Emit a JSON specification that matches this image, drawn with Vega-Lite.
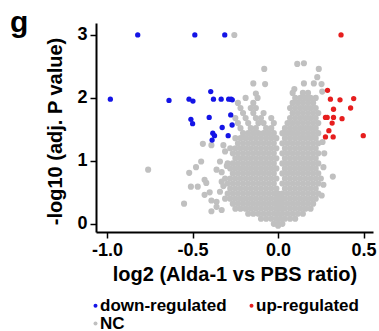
{
"$schema": "https://vega.github.io/schema/vega-lite/v6.json",
"width": 277, "height": 209,
"autosize": {"type": "none"},
"padding": {"left": 96, "top": 23, "right": 6, "bottom": 99},
"background": "white",
"title": {"text": "g", "anchor": "start", "frame": "group", "dx": -86, "offset": -39, "fontSize": 30, "font": "Liberation Sans", "fontWeight": "bold", "color": "black", "baseline": "alphabetic"},
"config": {
 "view": {"stroke": null},
 "axis": {"grid": false, "domainColor": "black", "domainWidth": 2, "tickColor": "black", "tickWidth": 1.5, "tickSize": 6,
  "labelFont": "Liberation Sans", "labelFontSize": 18, "labelFontWeight": "bold", "labelColor": "black",
  "titleFont": "Liberation Sans", "titleFontSize": 20, "titleFontWeight": "bold", "titleColor": "black"},
 "legend": {"orient": "none", "legendX": -9, "legendY": 274, "direction": "horizontal", "columns": 2, "padding": 0,
  "labelFont": "Liberation Sans", "labelFontSize": 17, "labelFontWeight": "bold", "labelColor": "black",
  "symbolType": "circle", "symbolSize": 16, "symbolStrokeWidth": 0, "labelOffset": -4, "columnPadding": 16, "rowPadding": 0}
},
"datasets": {
 "nc": [
{"x":0,"y":-0.03},
{"x":-0.025,"y":0},{"x":0,"y":0},{"x":0.025,"y":0},
{"x":-0.1,"y":0.08},{"x":-0.07,"y":0.08},{"x":-0.04,"y":0.08},{"x":-0.01,"y":0.08},{"x":0.015,"y":0.08},{"x":0.04,"y":0.08},{"x":0.07,"y":0.08},{"x":0.1,"y":0.08},
{"x":-0.175,"y":0.16},{"x":-0.145,"y":0.16},{"x":-0.115,"y":0.16},{"x":-0.085,"y":0.16},{"x":-0.055,"y":0.16},{"x":-0.025,"y":0.16},{"x":0,"y":0.16},{"x":0.025,"y":0.16},{"x":0.055,"y":0.16},{"x":0.085,"y":0.16},{"x":0.115,"y":0.16},{"x":0.145,"y":0.16},
{"x":-0.25,"y":0.24},{"x":-0.22,"y":0.24},{"x":-0.19,"y":0.24},{"x":-0.16,"y":0.24},{"x":-0.13,"y":0.24},{"x":-0.1,"y":0.24},{"x":-0.07,"y":0.24},{"x":-0.04,"y":0.24},{"x":-0.01,"y":0.24},{"x":0.015,"y":0.24},{"x":0.04,"y":0.24},{"x":0.07,"y":0.24},{"x":0.1,"y":0.24},{"x":0.13,"y":0.24},{"x":0.16,"y":0.24},{"x":0.19,"y":0.24},
{"x":-0.265,"y":0.32},{"x":-0.235,"y":0.32},{"x":-0.205,"y":0.32},{"x":-0.175,"y":0.32},{"x":-0.145,"y":0.32},{"x":-0.115,"y":0.32},{"x":-0.085,"y":0.32},{"x":-0.055,"y":0.32},{"x":-0.025,"y":0.32},{"x":0,"y":0.32},{"x":0.025,"y":0.32},{"x":0.055,"y":0.32},{"x":0.085,"y":0.32},{"x":0.115,"y":0.32},{"x":0.145,"y":0.32},{"x":0.175,"y":0.32},{"x":0.205,"y":0.32},
{"x":-0.28,"y":0.4},{"x":-0.25,"y":0.4},{"x":-0.22,"y":0.4},{"x":-0.19,"y":0.4},{"x":-0.16,"y":0.4},{"x":-0.13,"y":0.4},{"x":-0.1,"y":0.4},{"x":-0.07,"y":0.4},{"x":-0.04,"y":0.4},{"x":-0.01,"y":0.4},{"x":0.015,"y":0.4},{"x":0.04,"y":0.4},{"x":0.07,"y":0.4},{"x":0.1,"y":0.4},{"x":0.13,"y":0.4},{"x":0.16,"y":0.4},{"x":0.19,"y":0.4},{"x":0.22,"y":0.4},
{"x":-0.295,"y":0.48},{"x":-0.265,"y":0.48},{"x":-0.235,"y":0.48},{"x":-0.205,"y":0.48},{"x":-0.175,"y":0.48},{"x":-0.145,"y":0.48},{"x":-0.115,"y":0.48},{"x":-0.085,"y":0.48},{"x":-0.055,"y":0.48},{"x":-0.025,"y":0.48},{"x":0,"y":0.48},{"x":0.025,"y":0.48},{"x":0.055,"y":0.48},{"x":0.085,"y":0.48},{"x":0.115,"y":0.48},{"x":0.145,"y":0.48},{"x":0.175,"y":0.48},{"x":0.205,"y":0.48},{"x":0.235,"y":0.48},
{"x":-0.28,"y":0.56},{"x":-0.25,"y":0.56},{"x":-0.22,"y":0.56},{"x":-0.19,"y":0.56},{"x":-0.16,"y":0.56},{"x":-0.13,"y":0.56},{"x":-0.1,"y":0.56},{"x":-0.07,"y":0.56},{"x":-0.04,"y":0.56},{"x":-0.01,"y":0.56},{"x":0.04,"y":0.56},{"x":0.07,"y":0.56},{"x":0.1,"y":0.56},{"x":0.13,"y":0.56},{"x":0.16,"y":0.56},{"x":0.19,"y":0.56},{"x":0.22,"y":0.56},
{"x":-0.295,"y":0.64},{"x":-0.265,"y":0.64},{"x":-0.235,"y":0.64},{"x":-0.205,"y":0.64},{"x":-0.175,"y":0.64},{"x":-0.145,"y":0.64},{"x":-0.115,"y":0.64},{"x":-0.085,"y":0.64},{"x":-0.055,"y":0.64},{"x":-0.025,"y":0.64},{"x":0.025,"y":0.64},{"x":0.055,"y":0.64},{"x":0.085,"y":0.64},{"x":0.115,"y":0.64},{"x":0.145,"y":0.64},{"x":0.175,"y":0.64},{"x":0.205,"y":0.64},{"x":0.235,"y":0.64},
{"x":-0.31,"y":0.72},{"x":-0.28,"y":0.72},{"x":-0.25,"y":0.72},{"x":-0.22,"y":0.72},{"x":-0.19,"y":0.72},{"x":-0.16,"y":0.72},{"x":-0.13,"y":0.72},{"x":-0.1,"y":0.72},{"x":-0.07,"y":0.72},{"x":-0.04,"y":0.72},{"x":-0.01,"y":0.72},{"x":0.04,"y":0.72},{"x":0.07,"y":0.72},{"x":0.1,"y":0.72},{"x":0.13,"y":0.72},{"x":0.16,"y":0.72},{"x":0.19,"y":0.72},{"x":0.22,"y":0.72},{"x":0.25,"y":0.72},
{"x":-0.265,"y":0.8},{"x":-0.235,"y":0.8},{"x":-0.205,"y":0.8},{"x":-0.175,"y":0.8},{"x":-0.145,"y":0.8},{"x":-0.115,"y":0.8},{"x":-0.085,"y":0.8},{"x":-0.055,"y":0.8},{"x":-0.025,"y":0.8},{"x":0.025,"y":0.8},{"x":0.055,"y":0.8},{"x":0.085,"y":0.8},{"x":0.115,"y":0.8},{"x":0.145,"y":0.8},{"x":0.175,"y":0.8},{"x":0.205,"y":0.8},{"x":0.235,"y":0.8},
{"x":-0.28,"y":0.88},{"x":-0.25,"y":0.88},{"x":-0.22,"y":0.88},{"x":-0.19,"y":0.88},{"x":-0.16,"y":0.88},{"x":-0.13,"y":0.88},{"x":-0.1,"y":0.88},{"x":-0.07,"y":0.88},{"x":-0.04,"y":0.88},{"x":-0.01,"y":0.88},{"x":0.04,"y":0.88},{"x":0.07,"y":0.88},{"x":0.1,"y":0.88},{"x":0.13,"y":0.88},{"x":0.16,"y":0.88},{"x":0.19,"y":0.88},{"x":0.22,"y":0.88},
{"x":-0.295,"y":0.96},{"x":-0.265,"y":0.96},{"x":-0.235,"y":0.96},{"x":-0.205,"y":0.96},{"x":-0.175,"y":0.96},{"x":-0.145,"y":0.96},{"x":-0.115,"y":0.96},{"x":-0.085,"y":0.96},{"x":-0.055,"y":0.96},{"x":-0.025,"y":0.96},{"x":0.025,"y":0.96},{"x":0.055,"y":0.96},{"x":0.085,"y":0.96},{"x":0.115,"y":0.96},{"x":0.145,"y":0.96},{"x":0.175,"y":0.96},{"x":0.205,"y":0.96},{"x":0.235,"y":0.96},
{"x":-0.25,"y":1.04},{"x":-0.22,"y":1.04},{"x":-0.19,"y":1.04},{"x":-0.16,"y":1.04},{"x":-0.13,"y":1.04},{"x":-0.1,"y":1.04},{"x":-0.07,"y":1.04},{"x":-0.04,"y":1.04},{"x":-0.01,"y":1.04},{"x":0.04,"y":1.04},{"x":0.07,"y":1.04},{"x":0.1,"y":1.04},{"x":0.13,"y":1.04},{"x":0.16,"y":1.04},{"x":0.19,"y":1.04},{"x":0.22,"y":1.04},
{"x":-0.265,"y":1.12},{"x":-0.235,"y":1.12},{"x":-0.205,"y":1.12},{"x":-0.175,"y":1.12},{"x":-0.145,"y":1.12},{"x":-0.115,"y":1.12},{"x":-0.085,"y":1.12},{"x":-0.055,"y":1.12},{"x":-0.025,"y":1.12},{"x":0.025,"y":1.12},{"x":0.055,"y":1.12},{"x":0.085,"y":1.12},{"x":0.115,"y":1.12},{"x":0.145,"y":1.12},{"x":0.175,"y":1.12},{"x":0.205,"y":1.12},{"x":0.235,"y":1.12},
{"x":-0.28,"y":1.2},{"x":-0.25,"y":1.2},{"x":-0.22,"y":1.2},{"x":-0.19,"y":1.2},{"x":-0.16,"y":1.2},{"x":-0.13,"y":1.2},{"x":-0.1,"y":1.2},{"x":-0.07,"y":1.2},{"x":-0.04,"y":1.2},{"x":-0.01,"y":1.2},{"x":0.04,"y":1.2},{"x":0.07,"y":1.2},{"x":0.1,"y":1.2},{"x":0.13,"y":1.2},{"x":0.16,"y":1.2},{"x":0.19,"y":1.2},{"x":0.22,"y":1.2},
{"x":-0.235,"y":1.28},{"x":-0.205,"y":1.28},{"x":-0.175,"y":1.28},{"x":-0.145,"y":1.28},{"x":-0.115,"y":1.28},{"x":-0.085,"y":1.28},{"x":-0.055,"y":1.28},{"x":-0.025,"y":1.28},{"x":0.025,"y":1.28},{"x":0.055,"y":1.28},{"x":0.085,"y":1.28},{"x":0.115,"y":1.28},{"x":0.145,"y":1.28},{"x":0.175,"y":1.28},{"x":0.205,"y":1.28},{"x":0.235,"y":1.28},
{"x":-0.25,"y":1.36},{"x":-0.22,"y":1.36},{"x":-0.19,"y":1.36},{"x":-0.16,"y":1.36},{"x":-0.13,"y":1.36},{"x":-0.1,"y":1.36},{"x":-0.07,"y":1.36},{"x":-0.04,"y":1.36},{"x":-0.01,"y":1.36},{"x":0.04,"y":1.36},{"x":0.07,"y":1.36},{"x":0.1,"y":1.36},{"x":0.13,"y":1.36},{"x":0.16,"y":1.36},{"x":0.19,"y":1.36},{"x":0.22,"y":1.36},
{"x":-0.205,"y":1.44},{"x":-0.175,"y":1.44},{"x":-0.145,"y":1.44},{"x":-0.115,"y":1.44},{"x":-0.085,"y":1.44},{"x":-0.055,"y":1.44},{"x":-0.025,"y":1.44},{"x":0.025,"y":1.44},{"x":0.055,"y":1.44},{"x":0.085,"y":1.44},{"x":0.115,"y":1.44},{"x":0.145,"y":1.44},{"x":0.175,"y":1.44},{"x":0.205,"y":1.44},{"x":0.235,"y":1.44},
{"x":-0.22,"y":1.52},{"x":-0.16,"y":1.52},{"x":-0.13,"y":1.52},{"x":-0.07,"y":1.52},{"x":-0.04,"y":1.52},{"x":0.04,"y":1.52},{"x":0.07,"y":1.52},{"x":0.1,"y":1.52},{"x":0.13,"y":1.52},{"x":0.16,"y":1.52},{"x":0.19,"y":1.52},{"x":0.22,"y":1.52},
{"x":-0.235,"y":1.6},{"x":-0.175,"y":1.6},{"x":-0.115,"y":1.6},{"x":-0.085,"y":1.6},{"x":-0.025,"y":1.6},{"x":0.055,"y":1.6},{"x":0.085,"y":1.6},{"x":0.115,"y":1.6},{"x":0.145,"y":1.6},{"x":0.175,"y":1.6},{"x":0.205,"y":1.6},{"x":0.235,"y":1.6},
{"x":-0.25,"y":1.68},{"x":-0.19,"y":1.68},{"x":-0.13,"y":1.68},{"x":-0.1,"y":1.68},{"x":-0.04,"y":1.68},{"x":0.07,"y":1.68},{"x":0.1,"y":1.68},{"x":0.13,"y":1.68},{"x":0.16,"y":1.68},{"x":0.19,"y":1.68},{"x":0.22,"y":1.68},
{"x":-0.205,"y":1.76},{"x":-0.145,"y":1.76},{"x":-0.085,"y":1.76},{"x":0.085,"y":1.76},{"x":0.115,"y":1.76},{"x":0.145,"y":1.76},{"x":0.175,"y":1.76},{"x":0.205,"y":1.76},{"x":0.235,"y":1.76},
{"x":-0.22,"y":1.84},{"x":-0.16,"y":1.84},{"x":-0.13,"y":1.84},{"x":0.07,"y":1.84},{"x":0.1,"y":1.84},{"x":0.13,"y":1.84},{"x":0.16,"y":1.84},{"x":0.19,"y":1.84},{"x":0.22,"y":1.84},
{"x":-0.235,"y":1.92},{"x":-0.145,"y":1.92},{"x":0.085,"y":1.92},{"x":0.115,"y":1.92},{"x":0.145,"y":1.92},{"x":0.175,"y":1.92},{"x":0.205,"y":1.92},
{"x":-0.19,"y":2.0},{"x":-0.12,"y":2.0},{"x":0.1,"y":2.0},{"x":0.13,"y":2.0},{"x":0.16,"y":2.0},{"x":0.19,"y":2.0},{"x":0.22,"y":2.0},
{"x":0.085,"y":2.08},{"x":0.145,"y":2.08},{"x":0.175,"y":2.08},
{"x":-0.256,"y":3.0},{"x":-0.081,"y":2.46},{"x":0.112,"y":2.54},{"x":0.151,"y":2.55},{"x":0.238,"y":2.46},{"x":-0.145,"y":2.23},{"x":-0.076,"y":2.22},{"x":0.151,"y":2.23},{"x":0.209,"y":2.23},{"x":0.229,"y":2.33},{"x":0.254,"y":2.22},{"x":0.258,"y":2.1},{"x":-0.13,"y":2.07},{"x":0.095,"y":2.14},
{"x":-0.76,"y":0.86},{"x":-0.55,"y":0.32},{"x":-0.52,"y":0.81},{"x":-0.51,"y":0.59},{"x":-0.47,"y":0.59},{"x":-0.48,"y":0.9},{"x":-0.45,"y":0.99},{"x":-0.43,"y":0.7},{"x":-0.42,"y":0.65},{"x":-0.43,"y":0.46},{"x":-0.4,"y":0.5},{"x":-0.39,"y":0.37},{"x":-0.39,"y":0.2},{"x":-0.36,"y":0.35},{"x":-0.36,"y":0.27},{"x":-0.34,"y":0.51},{"x":-0.33,"y":0.67},{"x":-0.33,"y":0.82},{"x":-0.34,"y":0.99},{"x":-0.44,"y":1.27},{"x":-0.39,"y":1.25},{"x":-0.32,"y":1.25},{"x":-0.31,"y":1.15},{"x":-0.33,"y":0.22},{"x":-0.36,"y":0.86},{"x":-0.3,"y":0.92},{"x":-0.31,"y":0.4},{"x":-0.32,"y":0.6},
{"x":0.32,"y":0.75},{"x":0.265,"y":0.9},{"x":0.27,"y":1.12},{"x":0.265,"y":0.62},{"x":0.26,"y":1.3},{"x":0.255,"y":0.45}
 ],
 "down": [
{"x":-0.821,"y":3.0},{"x":-0.487,"y":3.0},{"x":-0.312,"y":3.0},{"x":-0.981,"y":1.98},{"x":-0.638,"y":1.96},{"x":-0.521,"y":1.98},{"x":-0.498,"y":1.95},{"x":-0.394,"y":2.1},{"x":-0.378,"y":1.98},{"x":-0.333,"y":1.98},{"x":-0.289,"y":1.98},{"x":-0.275,"y":1.98},{"x":-0.268,"y":1.97},{"x":-0.277,"y":1.73},{"x":-0.403,"y":1.69},{"x":-0.51,"y":1.66},{"x":-0.5,"y":1.59},{"x":-0.327,"y":1.53},{"x":-0.382,"y":1.44},{"x":-0.372,"y":1.4},{"x":-0.386,"y":1.33},{"x":-0.292,"y":1.4},{"x":-0.269,"y":1.57}
 ],
 "up": [
{"x":0.368,"y":3.0},{"x":0.289,"y":2.12},{"x":0.306,"y":1.98},{"x":0.362,"y":1.97},{"x":0.442,"y":1.99},{"x":0.324,"y":1.82},{"x":0.424,"y":1.84},{"x":0.277,"y":1.69},{"x":0.287,"y":1.69},{"x":0.324,"y":1.69},{"x":0.374,"y":1.67},{"x":0.316,"y":1.6},{"x":0.297,"y":1.48},{"x":0.277,"y":1.38},{"x":0.322,"y":1.38},{"x":0.498,"y":1.4}
 ]
},
"layer": [
 {"data": {"name": "nc"}, "mark": {"type": "circle", "size": 38, "opacity": 1},
  "encoding": {
   "x": {"field": "x", "type": "quantitative", "scale": {"domain": [-1.065, 0.555], "nice": false, "zero": false},
     "axis": {"title": "log2 (Alda-1 vs PBS ratio)", "values": [-1, -0.5, 0, 0.5], "labelExpr": "datum.value < 0 ? '-' + format(-datum.value, '.1f') : format(datum.value, '.1f')", "labelPadding": 3, "titlePadding": 5}},
   "y": {"field": "y", "type": "quantitative", "scale": {"domain": [-0.13, 3.19], "nice": false, "zero": false},
     "axis": {"title": "-log10 (adj. P value)", "values": [0, 1, 2, 3], "format": "d", "labelPadding": 3, "titlePadding": 11, "titleY": 108}},
   "color": {"datum": "NC", "type": "nominal", "scale": {"domain": ["down-regulated", "up-regulated", "NC"], "range": ["#1414e6", "#e61e1e", "#c0c0c0"]}, "legend": {"title": null}}
  }},
 {"mark": {"type": "rule", "color": "#999999", "strokeDash": [5, 3], "strokeWidth": 1.2},
  "encoding": {"y": {"datum": 1.301, "type": "quantitative"}}},
 {"mark": {"type": "rule", "color": "#999999", "strokeDash": [5, 3], "strokeWidth": 1.2},
  "encoding": {"x": {"datum": -0.263, "type": "quantitative"}}},
 {"mark": {"type": "rule", "color": "#999999", "strokeDash": [5, 3], "strokeWidth": 1.2},
  "encoding": {"x": {"datum": 0.263, "type": "quantitative"}}},
 {"data": {"name": "down"}, "mark": {"type": "circle", "size": 28, "opacity": 1},
  "encoding": {"x": {"field": "x", "type": "quantitative"}, "y": {"field": "y", "type": "quantitative"}, "color": {"datum": "down-regulated", "type": "nominal"}}},
 {"data": {"name": "up"}, "mark": {"type": "circle", "size": 28, "opacity": 1},
  "encoding": {"x": {"field": "x", "type": "quantitative"}, "y": {"field": "y", "type": "quantitative"}, "color": {"datum": "up-regulated", "type": "nominal"}}}
]
}
